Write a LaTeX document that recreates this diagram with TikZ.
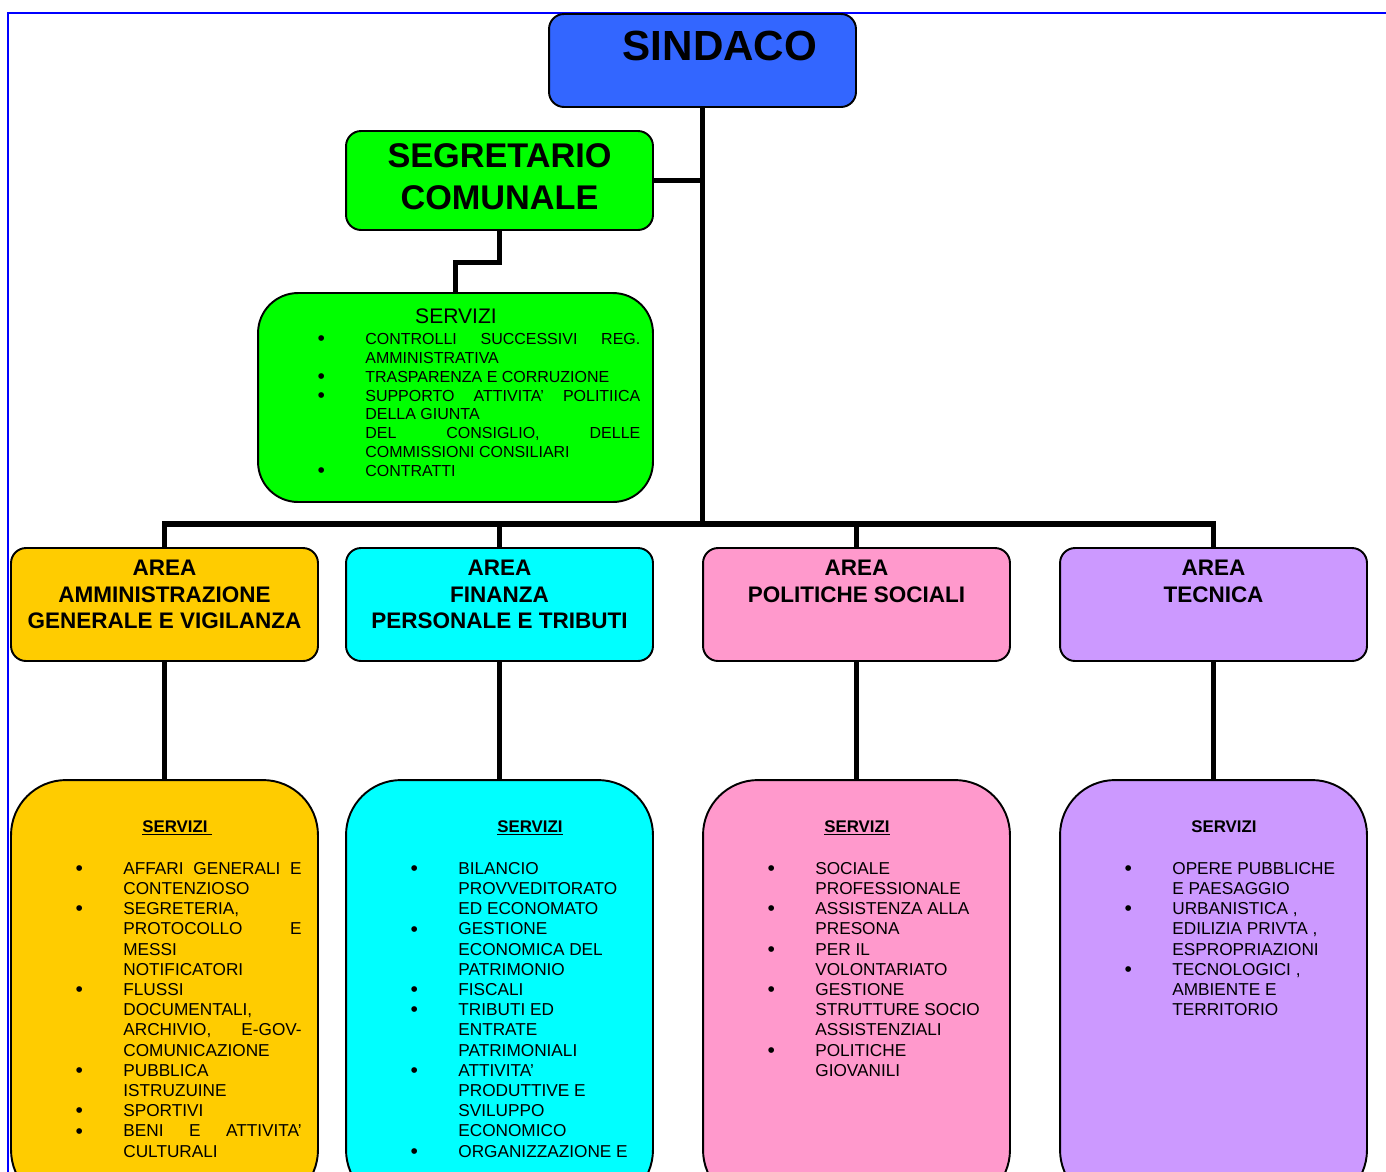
\documentclass[tikz,border=0pt]{standalone}
\usepackage{fontspec}
\setmainfont{Liberation Sans}

\definecolor{bluSindaco}{RGB}{51,102,255}
\definecolor{verde}{RGB}{0,255,0}
\definecolor{giallo}{RGB}{255,204,0}
\definecolor{ciano}{RGB}{0,255,255}
\definecolor{rosa}{RGB}{255,153,204}
\definecolor{lilla}{RGB}{204,153,255}

\hyphenpenalty=10000
\tolerance=10000
\hbadness=10000

% bullet item, hanging to the left of the text column
\newcommand{\voce}{\par\noindent\llap{\smash{\raisebox{-0.7pt}{\fontsize{12}{12}\selectfont\textbullet}}\hspace{23pt}}}

\tikzset{
    box/.style={draw=black, line width=1.1pt, rounded corners=0.3cm, inner sep=0pt},
    areabox/.style={box, minimum width=6.14cm, minimum height=2.26cm},
    svcbox/.style={box, rounded corners=1.1cm, minimum width=6.14cm, minimum height=8.5cm},
    conn/.style={line width=3.3pt},
    areatitle/.style={font=\fontsize{12.8}{15}\selectfont\bfseries, align=center, anchor=north, inner sep=0pt},
    svctitle/.style={font=\fontsize{9.6}{11.5}\selectfont\bfseries, anchor=base west, inner sep=0pt},
    svclist/.style={font=\fontsize{9.8}{11.5}\selectfont, anchor=base west, inner sep=0pt},
}

\begin{document}
\begin{tikzpicture}[x=0.02cm, y=-0.02cm]
        \useasboundingbox (0,0) rectangle (1386,1171);
        \clip (0,0) rectangle (1386,1171);

        % page frame
        \draw[blue, line width=1.1pt] (8,13) rectangle (1500,1300);

        % top of the chart
        \node[box, fill=bluSindaco, minimum width=6.14cm, minimum height=1.86cm] (sindaco) at (702.5,60.5) {};
        \node[font=\fontsize{24}{28}\selectfont\bfseries, inner sep=0pt] (sindacoTxt) at (720,46) {SINDACO};

        \node[box, fill=verde, minimum width=6.14cm, minimum height=1.98cm] (segretario) at (499.5,180.5) {};
        \node[font=\fontsize{19.5}{23.8}\selectfont\bfseries, align=center, anchor=north, inner sep=0pt] (segretarioTxt) at (499.5,143.5) {SEGRETARIO\\COMUNALE};

        \node[box, rounded corners=0.8cm, fill=verde, minimum width=7.9cm, minimum height=4.18cm] (servizi) at (455.5,397.5) {};
        \node[font=\fontsize{12}{14}\selectfont, inner sep=0pt] (serviziTit) at (456,316) {SERVIZI};
        \node[font=\fontsize{9.1}{10.7}\selectfont, anchor=base west, inner sep=0pt] (serviziList) at (365,344.7) {\parbox[t]{156.5pt}{%
            \voce CONTROLLI SUCCESSIVI REG.\linebreak AMMINISTRATIVA
            \voce TRASPARENZA E CORRUZIONE
            \voce SUPPORTO ATTIVITA' POLITIICA\linebreak DELLA GIUNTA
            \par\noindent DEL CONSIGLIO, DELLE\linebreak COMMISSIONI CONSILIARI
            \voce CONTRATTI}};

        % the four areas
        \node[areabox, fill=giallo] (area1) at (164.5,604.5) {};
        \node[areabox, fill=ciano] (area2) at (499.5,604.5) {};
        \node[areabox, fill=rosa] (area3) at (856.5,604.5) {};
        \node[areabox, fill=lilla] (area4) at (1213.5,604.5) {};

        \node[areatitle] (area1Txt) at (164.5,560) {AREA\\AMMINISTRAZIONE\\GENERALE E VIGILANZA};
        \node[areatitle] (area2Txt) at (499.5,560) {AREA\\FINANZA\\PERSONALE E TRIBUTI};
        \node[areatitle] (area3Txt) at (856.5,560) {AREA\\POLITICHE SOCIALI};
        \node[areatitle] (area4Txt) at (1213.5,560) {AREA\\TECNICA};

        % services of each area
        \node[svcbox, fill=giallo] (svc1) at (164.5,992.5) {};
        \node[svcbox, fill=ciano] (svc2) at (499.5,992.5) {};
        \node[svcbox, fill=rosa] (svc3) at (856.5,992.5) {};
        \node[svcbox, fill=lilla] (svc4) at (1213.5,992.5) {};

        \node[svctitle] (svc1Tit) at (142,832) {\underline{SERVIZI\ }};
        \node[svctitle] (svc2Tit) at (497,832) {\underline{SERVIZI}};
        \node[svctitle] (svc3Tit) at (824,832) {\underline{SERVIZI}};
        \node[svctitle] (svc4Tit) at (1191,832) {SERVIZI};

        \node[svclist] (svc1List) at (123,874.2) {\parbox[t]{101.5pt}{%
            \voce AFFARI GENERALI E\linebreak CONTENZIOSO
            \voce SEGRETERIA,\newline PROTOCOLLO E\linebreak MESSI\newline NOTIFICATORI
            \voce FLUSSI\newline DOCUMENTALI,\newline ARCHIVIO, E-GOV-\linebreak COMUNICAZIONE
            \voce PUBBLICA\newline ISTRUZUINE
            \voce SPORTIVI
            \voce BENI E ATTIVITA'\linebreak CULTURALI}};

        \node[svclist] (svc2List) at (458,874.2) {\parbox[t]{105pt}{\raggedright
            \voce BILANCIO\newline PROVVEDITORATO\newline ED ECONOMATO
            \voce GESTIONE\newline ECONOMICA DEL\newline PATRIMONIO
            \voce FISCALI
            \voce TRIBUTI ED\newline ENTRATE\newline PATRIMONIALI
            \voce ATTIVITA'\newline PRODUTTIVE E\newline SVILUPPO\newline ECONOMICO
            \voce ORGANIZZAZIONE E}};

        \node[svclist] (svc3List) at (815,874.2) {\parbox[t]{105pt}{\raggedright
            \voce SOCIALE\newline PROFESSIONALE
            \voce ASSISTENZA ALLA\newline PRESONA
            \voce PER IL\newline VOLONTARIATO
            \voce GESTIONE\newline STRUTTURE SOCIO\newline ASSISTENZIALI
            \voce POLITICHE\newline GIOVANILI}};

        \node[svclist] (svc4List) at (1172,874.2) {\parbox[t]{105pt}{\raggedright
            \voce OPERE PUBBLICHE\newline E PAESAGGIO
            \voce URBANISTICA ,\newline EDILIZIA PRIVTA ,\newline ESPROPRIAZIONI
            \voce TECNOLOGICI ,\newline AMBIENTE E\newline TERRITORIO}};

        % connectors
        \coordinate (bus) at (702.5,524);
        \draw[conn] (sindaco.south) -- (bus);
        \draw[conn] (segretario.east) -- (segretario.east -| sindaco.south);
        \draw[conn] (segretario.south) -- ++(0,31.5) -| (servizi.north);
        \draw[conn] (area1.north) |- (bus) -| (area4.north);
        \draw[conn] (area2.north) -- (area2.north |- bus);
        \draw[conn] (area3.north) -- (area3.north |- bus);

        \foreach \i in {1,...,4}{
            \draw[conn] (area\i.south) -- (svc\i.north);
        }
    \end{tikzpicture}
\end{document}
